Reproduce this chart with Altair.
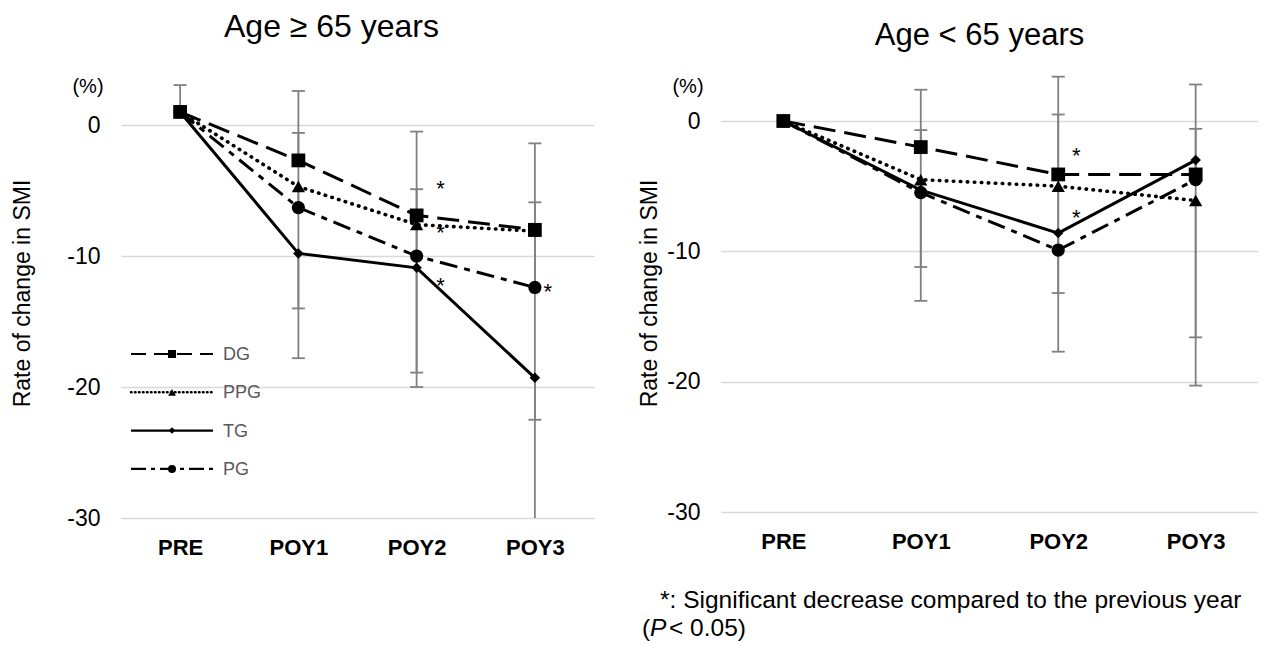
import altair as alt
import pandas as pd

FONT = "Liberation Sans, Arial, Helvetica, sans-serif"

times = ["PRE", "POY1", "POY2", "POY3"]
groups = ["DG", "PPG", "TG", "PG"]

# Age >= 65 years: mean rate of change (%) and error-bar end values
old_dg = [1.0, -2.7, -6.9, -8.0]
old_ppg = [1.0, -4.7, -7.6, -8.1]
old_tg = [1.0, -9.8, -10.9, -19.3]
old_pg = [1.0, -6.3, -10.0, -12.4]
old_dg_err = [3.05, 2.6, -0.5, -1.4]
old_ppg_err = [None, -14.0, -18.9, -22.5]
old_tg_err = [None, -17.8, -20.0, -33.0]
old_pg_err = [None, -0.6, -4.9, -5.9]

# Age < 65 years
young_dg = [0.0, -2.0, -4.1, -4.1]
young_ppg = [0.0, -4.5, -5.0, -6.1]
young_tg = [0.0, -5.3, -8.6, -3.0]
young_pg = [0.0, -5.5, -9.9, -4.5]
young_dg_err = [None, 2.4, 3.4, 2.8]
young_ppg_err = [None, -11.2, -13.2, -16.6]
young_tg_err = [None, -13.8, -17.7, -20.3]
young_pg_err = [None, -0.7, 0.5, -0.6]

# significance asterisks (time, position)
old_star_times = ["POY2", "POY2", "POY2"]
old_star_values = [-4.65, -8.0, -12.06]
old_star2_times = ["POY3"]
old_star2_values = [-12.5]
young_star_times = ["POY2", "POY2"]
young_star_values = [-2.45, -7.2]

dashes = {"DG": [22, 9], "PPG": [0.5, 6.5], "TG": None, "PG": [18, 7, 6, 7]}
shapes = {"DG": "square", "PPG": "triangle-up", "TG": "diamond", "PG": "circle"}
sizes = {"DG": 190, "PPG": 175, "TG": 110, "PG": 175}

leg_dashes = {"DG": [15, 8], "PPG": [0.5, 3.5], "TG": None, "PG": [15, 5, 4, 5]}
leg_sizes = {"DG": 64, "PPG": 60, "TG": 42, "PG": 64}


def long_df(means, errs):
    rows = []
    for g in groups:
        for t, v, e in zip(times, means[g], errs[g]):
            rows.append({"group": g, "time": t, "value": v, "err": e})
    return pd.DataFrame(rows)


def panel(df, stars, stars2, title, title_size, top, width, height, xpad, title_offset,
          title_dx, ytitle_x, ytitle_y, legend=False, footnote=False):
    xenc = alt.X("time:N", sort=times,
                 scale=alt.Scale(type="point", padding=xpad, domain=times),
                 axis=alt.Axis(title=None, labelFontSize=22, labelFontWeight="bold",
                               labelColor="black", labelFont=FONT, ticks=False,
                               domain=False, labelPadding=19, labelAngle=0, grid=False))
    yscale = alt.Scale(domain=[-30, top], nice=False, zero=False)
    yaxis = alt.Axis(values=[0, -10, -20, -30], title="Rate of change in SMI",
                     titleFontSize=23, titleFontWeight="normal", titleColor="black",
                     titleFont=FONT, titleX=ytitle_x, titleY=ytitle_y,
                     labelFontSize=23, labelColor="black", labelFont=FONT,
                     labelExpr="'' + datum.value", labelPadding=21,
                     ticks=False, domain=False, grid=True,
                     gridColor="#d9d9d9", gridWidth=1.6)
    yenc = alt.Y("value:Q", scale=yscale, axis=yaxis)

    errdf = df.dropna(subset=["err"])
    layers = []
    layers.append(
        alt.Chart(errdf).mark_rule(color="#808080", strokeWidth=1.8, clip=True)
        .encode(x=xenc, y=yenc, y2="err:Q"))
    layers.append(
        alt.Chart(errdf).mark_tick(color="#808080", thickness=1.8, size=13,
                                    opacity=1, clip=True)
        .encode(x=xenc, y=alt.Y("err:Q", scale=yscale, axis=yaxis)))
    for g in groups:
        kw = dict(color="black", strokeWidth=3)
        if dashes[g] is not None:
            kw["strokeDash"] = dashes[g]
        if g == "PPG":
            kw["strokeCap"] = "round"
            kw["strokeWidth"] = 3.6
        layers.append(alt.Chart(df[df.group == g]).mark_line(**kw)
                      .encode(x=xenc, y=yenc))
    for g in groups:
        layers.append(alt.Chart(df[df.group == g])
                      .mark_point(filled=True, shape=shapes[g], size=sizes[g],
                                  color="black", opacity=1)
                      .encode(x=xenc, y=yenc))
    sdf = pd.DataFrame({"time": stars[0], "value": stars[1]})
    layers.append(alt.Chart(sdf).mark_text(text="*", fontSize=22, font=FONT, dx=stars[2],
                                           dy=3, color="black")
                  .encode(x=xenc, y=yenc))
    if stars2 is not None:
        s2 = pd.DataFrame({"time": stars2[0], "value": stars2[1]})
        layers.append(alt.Chart(s2).mark_text(text="*", fontSize=22, font=FONT,
                                              dx=stars2[2], dy=3, color="black")
                      .encode(x=xenc, y=yenc))
    layers.append(alt.Chart(pd.DataFrame({"t": ["(%)"]}))
                  .mark_text(fontSize=20, font=FONT, color="black")
                  .encode(x=alt.value(-33), y=alt.value(12), text="t:N"))
    if legend:
        # legend key drawn inside the plot (as in the reference)
        for i, g in enumerate(groups):
            ly = 279 + i * 38.3
            gdf = pd.DataFrame({"group": [g]})
            kw = dict(color="black", strokeWidth=2.2)
            if leg_dashes[g] is not None:
                kw["strokeDash"] = leg_dashes[g]
            if g == "PPG":
                kw["strokeCap"] = "round"
                kw["strokeWidth"] = 2.6
            layers.append(alt.Chart(gdf).mark_rule(**kw).encode(
                x=alt.value(10), x2=alt.value(92), y=alt.value(ly)))
            layers.append(alt.Chart(gdf).mark_point(
                filled=True, shape=shapes[g], size=leg_sizes[g], color="black", opacity=1
            ).encode(x=alt.value(51), y=alt.value(ly)))
            layers.append(alt.Chart(gdf).mark_text(
                fontSize=18, font=FONT, color="#595959", align="left", baseline="middle"
            ).encode(x=alt.value(102), y=alt.value(ly + 1), text="group:N"))
    if footnote:
        fd = pd.DataFrame({"t": ["*: Significant decrease compared to the previous year"]})
        layers.append(alt.Chart(fd).mark_text(fontSize=24.5, font=FONT, color="black",
                                              align="left", baseline="alphabetic")
                      .encode(x=alt.value(-61), y=alt.value(height + 96), text="t:N"))
        for txt, xv, style in [("(", -79, "normal"), ("P", -71, "italic"),
                               ("< 0.05)", -52, "normal")]:
            layers.append(alt.Chart(pd.DataFrame({"t": [txt]}))
                          .mark_text(fontSize=24.5, font=FONT, color="black", align="left",
                                     baseline="alphabetic", fontStyle=style)
                          .encode(x=alt.value(xv), y=alt.value(height + 124), text="t:N"))
    return alt.layer(*layers).properties(
        width=width, height=height,
        title=alt.TitleParams(text=title, fontSize=title_size, font=FONT,
                              fontWeight="normal", color="black", anchor="middle",
                              frame="group", offset=title_offset, dx=title_dx,
                              baseline="alphabetic"))


old = long_df({"DG": old_dg, "PPG": old_ppg, "TG": old_tg, "PG": old_pg},
              {"DG": old_dg_err, "PPG": old_ppg_err, "TG": old_tg_err, "PG": old_pg_err})
young = long_df({"DG": young_dg, "PPG": young_ppg, "TG": young_tg, "PG": young_pg},
                {"DG": young_dg_err, "PPG": young_ppg_err, "TG": young_tg_err,
                 "PG": young_pg_err})

left = panel(old, (old_star_times, old_star_values, 24), (old_star2_times, old_star2_values, 13),
             "Age ≥ 65 years", 32, 3.82, 473, 443, 0.5, 6, -26, -87, 218, legend=True)
right = panel(young, (young_star_times, young_star_values, 18), None,
              "Age < 65 years", 31, 3.53, 537, 437, 0.4535, -1, -10, -60, 218, footnote=True)

chart = alt.hconcat(left, right, spacing=44).properties(
    padding={"left": 3, "top": 3, "right": 0, "bottom": 0}
).configure(font=FONT).configure_view(stroke=None)

chart.save("out.html", embed_options={"renderer": "svg", "actions": False})
